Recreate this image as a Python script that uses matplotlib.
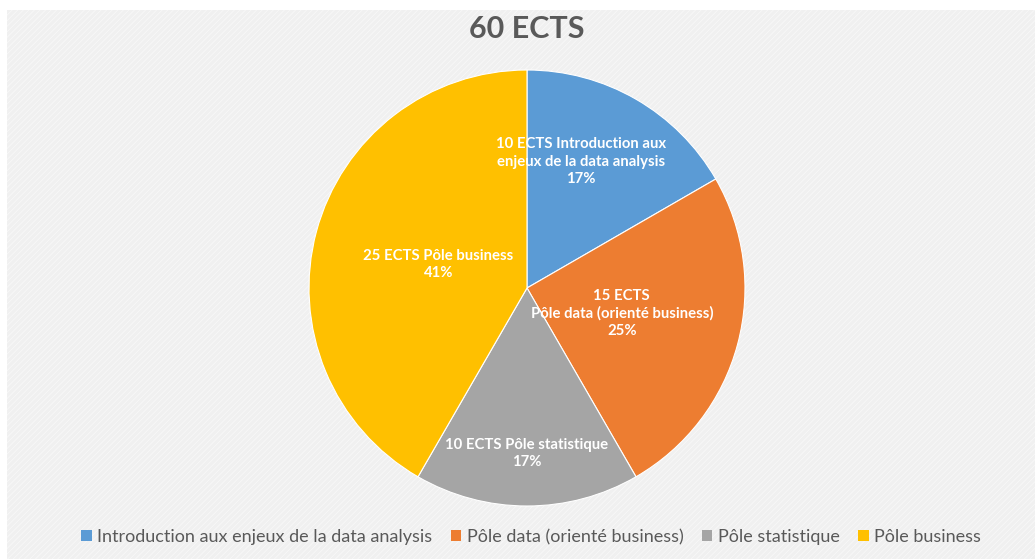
import numpy as np
import matplotlib.pyplot as plt
from matplotlib.patches import Rectangle

plt.rcParams['font.family'] = ['Lato', 'DejaVu Sans']
plt.rcParams['hatch.linewidth'] = 0.6

# data
categories = ["Introduction aux enjeux de la data analysis",
              "Pôle data (orienté business)",
              "Pôle statistique",
              "Pôle business"]
ects = [10, 15, 10, 25]
pct_labels = ["17%", "25%", "17%", "41%"]
slice_labels = ["10 ECTS Introduction aux\nenjeux de la data analysis",
                "15 ECTS\nPôle data (orienté business)",
                "10 ECTS Pôle statistique",
                "25 ECTS Pôle business"]
colors = ["#5B9BD5", "#ED7D31", "#A5A5A5", "#FFC000"]
# label placement (fraction of radius, angle nudge in degrees)
label_dist = [0.63, 0.45, 0.76, 0.42]
label_nudge = [7, 0, 0, 0]

W, H = 1035, 559
fig = plt.figure(figsize=(W / 100, H / 100), dpi=100)
fig.patch.set_facecolor('white')

# light patterned background like the excel chart area
bg = Rectangle((7 / W, 0), 1 - 7 / W, 1 - 10 / H, transform=fig.transFigure,
               facecolor='#f0f0f0', edgecolor='#f8f8f8', hatch='//////',
               linewidth=0, zorder=-10)
fig.patches.append(bg)

cx, cy, r = 527, 288, 218
ax = fig.add_axes([(cx - r) / W, (H - cy - r) / H, 2 * r / W, 2 * r / H])
wedges, _ = ax.pie(ects, colors=colors, startangle=90, counterclock=False,
                   wedgeprops=dict(edgecolor='white', linewidth=0.8))
ax.set_xlim(-1, 1)
ax.set_ylim(-1, 1)
ax.set_aspect('auto')

for w, lab, pct, d, nd in zip(wedges, slice_labels, pct_labels, label_dist, label_nudge):
    ang = np.deg2rad((w.theta1 + w.theta2) / 2 + nd)
    ax.text(d * np.cos(ang), d * np.sin(ang), lab + "\n" + pct,
            ha='center', va='center', color='white', fontsize=10.7,
            fontweight='bold', linespacing=1.3)

fig.text(cx / W, 1 - 29 / H, "60 ECTS", ha='center', va='center',
         fontsize=22, fontweight='bold', color='#595959')

leg = fig.legend(wedges, categories, loc='center', bbox_to_anchor=(531 / W, 1 - 537 / H),
                 ncol=4, frameon=False, fontsize=13, handlelength=0.6,
                 handleheight=0.6, handletextpad=0.3, columnspacing=1.0,
                 labelcolor='#595959')
for h in leg.legend_handles:
    h.set_edgecolor('none')

fig.savefig('out.png', dpi=100, facecolor=fig.get_facecolor())
